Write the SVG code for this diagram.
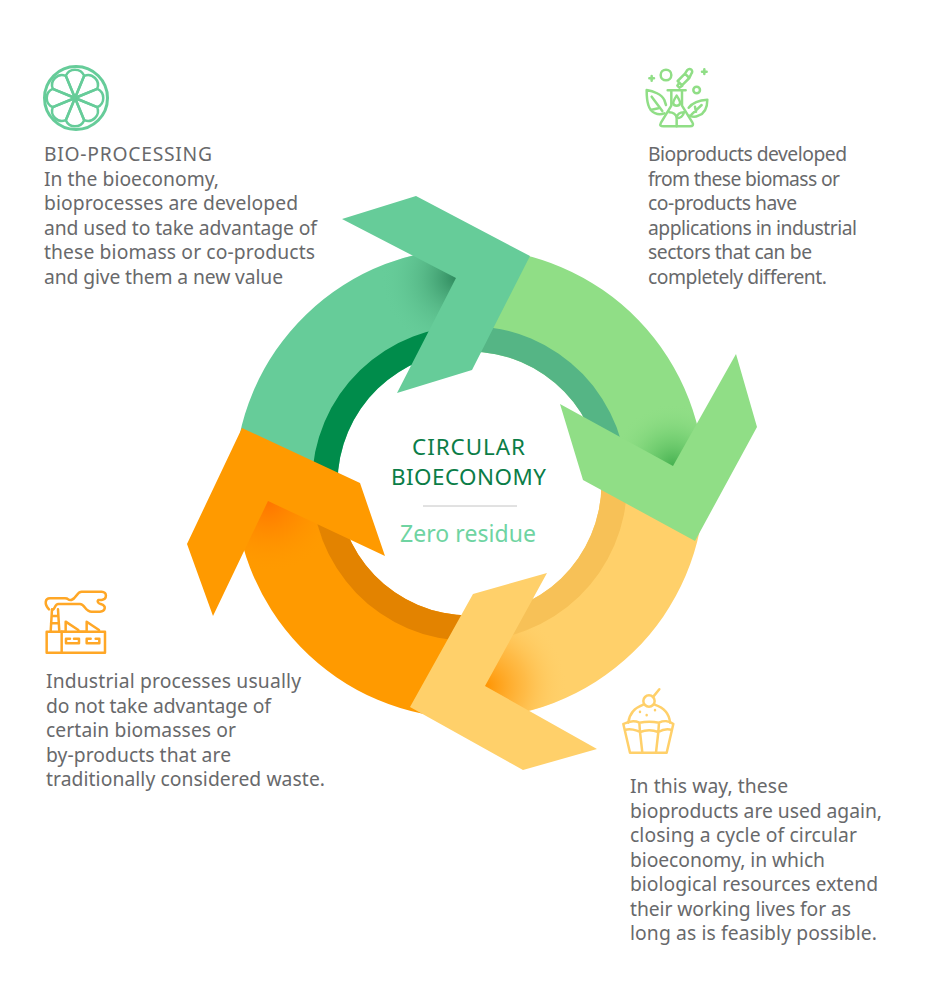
<svg xmlns="http://www.w3.org/2000/svg" xmlns:xlink="http://www.w3.org/1999/xlink" width="941" height="991" viewBox="0 0 941 991">
<style>
text{font-family:"Noto Sans","Open Sans","Liberation Sans",sans-serif}
.b{font-size:19.300px;fill:#68696b}
.t{font-size:22.400px;fill:#0b7d47;text-anchor:middle}
.ico{fill:none;stroke-width:7.500;stroke-linecap:round;stroke-linejoin:round}
</style>
<defs>
<path id="band" d="M234.500 483.500A235 235 0 0 1 477.700 248.600L474.100 351.600A132 132 0 0 0 337.500 483.500Z"/>
<path id="ring" d="M312 483.500A157.500 157.500 0 0 1 475 326.100L474.100 351.600A132 132 0 0 0 337.500 483.500Z"/>
<radialGradient id="gt" gradientUnits="userSpaceOnUse" cx="456" cy="278" r="75"><stop offset="0" stop-color="#2f8a5e"/><stop offset=".45" stop-color="#4eae7e" stop-opacity=".6"/><stop offset="1" stop-color="#66cc99" stop-opacity="0"/></radialGradient>
<radialGradient id="gg" gradientUnits="userSpaceOnUse" cx="673" cy="466" r="62"><stop offset="0" stop-color="#45b050"/><stop offset=".5" stop-color="#6ccb6c" stop-opacity=".6"/><stop offset="1" stop-color="#90de86" stop-opacity="0"/></radialGradient>
<radialGradient id="gy" gradientUnits="userSpaceOnUse" cx="485" cy="686" r="82"><stop offset="0" stop-color="#ff9300"/><stop offset=".5" stop-color="#ffb53c" stop-opacity=".75"/><stop offset="1" stop-color="#ffd06a" stop-opacity="0"/></radialGradient>
<radialGradient id="go" gradientUnits="userSpaceOnUse" cx="268" cy="501" r="72"><stop offset="0" stop-color="#ff7400"/><stop offset=".5" stop-color="#ff8800" stop-opacity=".6"/><stop offset="1" stop-color="#ff9a00" stop-opacity="0"/></radialGradient>
<path id="petal" d="M0 0L-9.200 -22.200A10 10 0 0 1 9.200 -22.200Z"/>
</defs>
<rect width="941" height="991" fill="#fff"/>

<g id="connectors">
<g id="band-teal"><use xlink:href="#band" fill="#66cc99"/><use xlink:href="#band" fill="url(#gt)"/><use xlink:href="#ring" fill="#008c4b"/></g>
<g id="band-green" transform="rotate(90 469.500 483.500)"><use xlink:href="#band" fill="#90de86"/><use xlink:href="#ring" fill="#55b585"/></g>
<g id="band-yellow" transform="rotate(180 469.500 483.500)"><use xlink:href="#band" fill="#ffd06a"/><use xlink:href="#ring" fill="#f7c157"/></g>
<g id="band-orange" transform="rotate(270 469.500 483.500)"><use xlink:href="#band" fill="#ff9a00"/><use xlink:href="#ring" fill="#e38300"/></g>
<g id="band-shades">
<path d="M469.500 248.500A235 235 0 0 1 704.500 483.500L626.500 483.500A157 157 0 0 0 469.500 326.500Z" fill="url(#gg)"/>
<path d="M704.500 483.500A235 235 0 0 1 469.500 718.500L469.500 640.500A157 157 0 0 0 626.500 483.500Z" fill="url(#gy)"/>
<path d="M469.500 718.500A235 235 0 0 1 234.500 483.500L312.500 483.500A157 157 0 0 0 469.500 640.500Z" fill="url(#go)"/>
</g>
<polygon id="arrow-teal" points="342,219 416,196 530,256 472,370 397,393 456,278" fill="#66cc99"/>
<polygon id="arrow-green" points="560,404 673,466 736,354 757,427 695,541 583,480" fill="#90de86"/>
<polygon id="arrow-yellow" points="547,573 473,594 410,707 523,770 597,749 485,686" fill="#ffd06a"/>
<polygon id="arrow-orange" points="385,556 360,483 242,428 187,544 213,616 268,501" fill="#ff9a00"/>
</g>

<g id="center">
<text class="t" x="468.500" y="455" textLength="113">CIRCULAR</text>
<text class="t" x="468.500" y="484.500" textLength="155">BIOECONOMY</text>
<line x1="423" y1="506" x2="517" y2="506" stroke="#c4c4c4" stroke-width="1"/>
<text x="468" y="542" font-size="23" fill="#6fd4a2" text-anchor="middle" textLength="136">Zero residue</text>
</g>

<g id="node-bioprocessing">
<g fill="none" stroke="#66cc99" stroke-width="2.500" stroke-linejoin="round">
<circle cx="76" cy="98" r="31.500" stroke-width="3"/>
<g transform="translate(75 98)">
<use xlink:href="#petal"/><use xlink:href="#petal" transform="rotate(45)"/><use xlink:href="#petal" transform="rotate(90)"/><use xlink:href="#petal" transform="rotate(135)"/><use xlink:href="#petal" transform="rotate(180)"/><use xlink:href="#petal" transform="rotate(225)"/><use xlink:href="#petal" transform="rotate(270)"/><use xlink:href="#petal" transform="rotate(315)"/>
</g></g>
<text class="b" x="44" y="161" textLength="168">BIO-PROCESSING</text>
<text class="b" x="44" y="185.500" textLength="175">In the bioeconomy,</text>
<text class="b" x="44" y="210" textLength="254">bioprocesses are developed</text>
<text class="b" x="44" y="234.500" textLength="273">and used to take advantage of</text>
<text class="b" x="44" y="259" textLength="271">these biomass or co-products</text>
<text class="b" x="44" y="283.500" textLength="239">and give them a new value</text>
</g>

<g id="node-bioproducts">
<g class="ico" stroke="#90de86" transform="translate(630 55) scale(.3333)">
<path d="M58 70H72M65 63V77M216 50H230M223 43V57"/>
<circle cx="108" cy="60" r="16"/><circle cx="200" cy="105" r="10"/>
<path d="M143 78L165 56L178 69L156 91ZM148 83L142 92L148 98L157 92M165 56L172 45C180 36 192 48 184 56L178 69"/>
<path d="M113 106H167M124 106V152L93 203C88 212 93 214 100 214H180C188 214 192 210 187 202L156 152V106"/>
<path d="M140 122C132 134 128 140 130 146C132 154 148 154 150 146C152 140 148 134 140 122Z"/>
<path d="M140 214V190C140 178 128 172 118 172M140 190C140 178 150 172 162 172C160 184 150 190 140 190"/>
<path d="M103 175C85 182 62 175 55 150C50 135 50 115 50 105C70 108 95 118 103 135L108 150M65 125L97 168M62 165L85 160"/>
<path d="M176 158C190 140 210 135 232 134C232 155 225 175 205 182C197 186 188 186 180 182M185 178L215 150M195 155L198 170"/>
</g>
<text class="b" x="648" y="161" textLength="199">Bioproducts developed</text>
<text class="b" x="648" y="185.500" textLength="192">from these biomass or</text>
<text class="b" x="648" y="210" textLength="149">co-products have</text>
<text class="b" x="648" y="234.500" textLength="209">applications in industrial</text>
<text class="b" x="648" y="259" textLength="164">sectors that can be</text>
<text class="b" x="648" y="283.500" textLength="179">completely different.</text>
</g>

<g id="node-industrial">
<g class="ico" stroke="#ffa726" transform="translate(30 580) scale(.3333)">
<rect x="50" y="155" width="175" height="63"/><path d="M95 155V218"/>
<path d="M95 155H107V125L145 150V155H170V125L207 150V155M62 155L66 88M88 155L84 88M63 130H86M65 108H85"/>
<path d="M120 176H108V190H147V176H132M182 176H170V190H208V176H197"/>
<path d="M57 88C42 72 45 55 60 55H105C118 55 112 62 124 60C140 55 140 35 155 35H215C232 35 232 58 215 60H205C200 65 205 70 212 72C232 78 225 95 210 95H185C165 95 165 72 150 72H85C75 72 75 85 70 88"/>
</g>
<text class="b" x="46" y="688" textLength="255">Industrial processes usually</text>
<text class="b" x="46" y="712.500" textLength="225">do not take advantage of</text>
<text class="b" x="46" y="737" textLength="190">certain biomasses or</text>
<text class="b" x="46" y="761.500" textLength="185">by-products that are</text>
<text class="b" x="46" y="786" textLength="279">traditionally considered waste.</text>
</g>

<g id="node-reuse">
<g class="ico" stroke="#ffd06a" transform="translate(610 680) scale(.3333)">
<circle cx="117" cy="63" r="17"/><path d="M130 50L148 28"/>
<path d="M55 128C58 100 78 82 100 74M134 74C158 82 178 100 180 128"/>
<path d="M40 132L60 218H170L190 132M40 132C60 122 75 122 88 128C105 125 130 125 147 128C160 122 178 122 190 132M88 128L90 156L97 218M147 128L145 156L138 218M44 150C60 145 80 150 90 156C110 148 125 148 145 156C155 150 170 145 186 150"/>
<path d="M90 95V96M110 105V106M135 90V91"/>
</g>
<text class="b" x="630" y="793" textLength="158">In this way, these</text>
<text class="b" x="630" y="817.500" textLength="252">bioproducts are used again,</text>
<text class="b" x="630" y="842" textLength="227">closing a cycle of circular</text>
<text class="b" x="630" y="866.500" textLength="195">bioeconomy, in which</text>
<text class="b" x="630" y="891" textLength="248">biological resources extend</text>
<text class="b" x="630" y="915.500" textLength="221">their working lives for as</text>
<text class="b" x="630" y="940" textLength="247">long as is feasibly possible.</text>
</g>
</svg>
